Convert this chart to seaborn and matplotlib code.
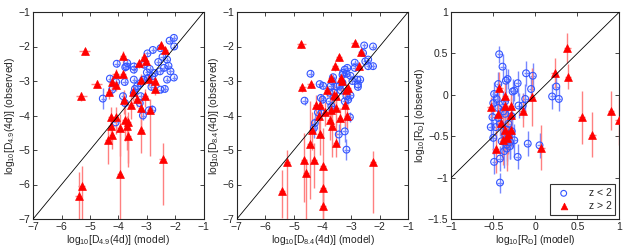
import numpy as np
import pandas as pd
import seaborn as sns
from matplotlib import pyplot as plt
from matplotlib.ticker import FuncFormatter

# ---- panel 1 : D4.9 ----
b1_x = [-2.05, -2.20, -2.04, -2.52, -2.79, -2.98, -2.29, -2.24, -2.40, -2.54,
        -2.73, -2.81, -2.96, -3.10, -3.22, -3.34, -3.42, -3.46, -2.17, -2.29,
        -2.05, -3.69, -3.46, -3.46, -3.72, -3.10, -4.06, -3.76, -4.30, -4.08,
        -3.78, -3.46, -3.13, -4.22, -4.55, -3.84, -3.77, -3.25, -3.14, -2.52,
        -2.37, -2.84, -3.22, -2.93, -2.81, -4.10, -2.60, -2.45, -3.00, -2.90]
b1_y = [-1.75, -1.83, -2.00, -2.05, -2.10, -2.20, -2.38, -2.56, -2.62, -2.72,
        -2.77, -2.86, -2.91, -2.96, -3.06, -3.15, -3.23, -3.35, -2.72, -2.96,
        -2.90, -2.48, -2.58, -2.67, -2.58, -2.53, -2.50, -2.60, -2.93, -3.03,
        -3.03, -2.96, -2.96, -3.25, -3.51, -3.44, -3.64, -3.64, -4.00, -3.25,
        -3.23, -3.17, -3.44, -3.85, -3.83, -4.20, -2.45, -2.30, -2.75, -2.65]
b1_ey = [0.08, 0.08, 0.08, 0.08, 0.08, 0.08, 0.08, 0.08, 0.08, 0.08,
         0.08, 0.08, 0.08, 0.08, 0.08, 0.10, 0.08, 0.10, 0.08, 0.08,
         0.08, 0.10, 0.12, 0.10, 0.10, 0.08, 0.10, 0.10, 0.10, 0.10,
         0.10, 0.08, 0.08, 0.15, 0.30, 0.12, 0.15, 0.12, 0.12, 0.10,
         0.10, 0.10, 0.10, 0.12, 0.12, 0.15, 0.08, 0.08, 0.08, 0.08]

r1_x = [-5.19, -3.84, -5.30, -4.77, -4.09, -3.84, -4.33, -4.24, -4.08, -3.28,
        -3.10, -3.03, -2.52, -2.36, -2.91, -2.73, -2.70, -3.22, -3.50, -3.35,
        -3.05, -3.22, -3.57, -3.81, -4.26, -4.10, -4.27, -4.24, -4.37, -3.96,
        -3.78, -3.67, -3.69, -3.67, -3.19, -2.90, -2.45, -3.96, -5.29, -5.39]
r1_y = [-2.14, -2.27, -3.43, -3.08, -2.79, -2.79, -3.32, -3.04, -3.13, -2.48,
        -2.30, -2.41, -1.97, -2.11, -2.94, -2.99, -3.22, -2.96, -3.33, -3.51,
        -3.44, -3.78, -3.69, -3.56, -4.05, -4.04, -4.31, -4.56, -4.70, -4.36,
        -4.14, -4.20, -4.30, -4.58, -4.41, -3.83, -5.26, -5.69, -6.05, -6.34]
r1_lo = [0.10, 0.20, 0.15, 0.10, 0.15, 0.15, 0.20, 0.20, 0.15, 0.15,
         0.15, 0.10, 0.10, 0.10, 0.20, 0.15, 0.20, 0.20, 0.25, 0.25,
         0.30, 0.60, 0.40, 0.40, 0.50, 0.50, 0.50, 0.40, 0.72, 0.80,
         0.60, 1.30, 0.70, 0.80, 0.68, 1.35, 1.32, 1.40, 1.00, 0.70]
r1_hi = [0.10, 0.15, 0.10, 0.10, 0.15, 0.10, 0.15, 0.15, 0.10, 0.10,
         0.10, 0.10, 0.10, 0.10, 0.15, 0.10, 0.15, 0.15, 0.20, 0.20,
         0.20, 0.30, 0.30, 0.30, 0.30, 0.30, 0.30, 0.20, 0.30, 0.40,
         0.35, 0.30, 0.30, 0.46, 0.58, 0.30, 0.46, 1.20, 0.60, 0.70]
r1_ex = [0.20, 0.10, 0.18, 0.18, 0.12, 0.10, 0.12, 0.12, 0.10, 0.10,
         0.10, 0.10, 0.10, 0.10, 0.10, 0.10, 0.10, 0.10, 0.10, 0.10,
         0.10, 0.10, 0.10, 0.10, 0.12, 0.10, 0.10, 0.10, 0.12, 0.10,
         0.10, 0.10, 0.10, 0.10, 0.10, 0.10, 0.12, 0.10, 0.12, 0.12]

# ---- panel 2 : D8.4 ----
b2_x = [-2.23, -2.54, -2.58, -2.40, -2.50, -2.23, -2.40, -2.87, -2.87, -2.78,
        -2.76, -2.76, -2.68, -3.13, -3.22, -3.28, -3.16, -3.02, -3.30, -4.42,
        -3.63, -3.65, -4.10, -3.98, -3.71, -3.51, -3.40, -3.36, -3.75, -3.60,
        -4.63, -4.06, -4.00, -3.10, -3.02, -3.16, -3.22, -3.75, -3.69, -3.65,
        -4.16, -4.04, -3.04, -4.27, -4.30, -3.43, -3.22, -3.16, -3.30, -2.95]
b2_y = [-2.00, -1.97, -2.19, -2.38, -2.43, -2.57, -2.57, -2.47, -2.62, -2.96,
        -3.10, -3.17, -2.96, -2.62, -2.67, -2.76, -2.79, -2.85, -2.82, -2.79,
        -2.89, -3.01, -3.09, -3.14, -3.14, -3.16, -3.14, -3.27, -3.34, -3.34,
        -3.57, -3.49, -3.54, -3.54, -3.42, -3.44, -3.59, -3.59, -3.73, -3.83,
        -3.91, -3.93, -4.05, -4.22, -4.36, -4.55, -4.46, -4.99, -3.05, -3.00]
b2_ey = [0.08, 0.08, 0.08, 0.08, 0.08, 0.08, 0.08, 0.08, 0.08, 0.10,
         0.10, 0.10, 0.08, 0.08, 0.08, 0.08, 0.08, 0.08, 0.08, 0.10,
         0.10, 0.10, 0.10, 0.10, 0.10, 0.10, 0.10, 0.10, 0.12, 0.12,
         0.12, 0.10, 0.10, 0.12, 0.12, 0.12, 0.15, 0.15, 0.15, 0.15,
         0.15, 0.15, 0.15, 0.30, 0.30, 0.30, 0.30, 0.30, 0.08, 0.08]

r2_x = [-4.74, -2.87, -4.71, -4.42, -3.41, -3.57, -3.34, -3.71, -2.73, -2.64,
        -3.10, -3.16, -3.84, -3.51, -4.22, -4.08, -4.12, -3.69, -3.51, -3.74,
        -3.40, -3.14, -3.22, -3.65, -4.36, -4.08, -4.45, -3.54, -4.65, -4.30,
        -3.98, -2.23, -5.25, -4.59, -3.98, -5.41, -3.98, -3.60, -3.30, -3.90]
r2_y = [-1.93, -1.90, -3.18, -3.10, -2.31, -2.57, -2.91, -2.91, -2.57, -2.17,
        -3.20, -3.25, -3.27, -3.44, -3.71, -3.71, -4.02, -3.83, -3.78, -4.12,
        -4.07, -4.00, -3.69, -4.31, -4.41, -4.54, -4.83, -4.80, -5.30, -5.30,
        -5.47, -5.36, -5.36, -5.67, -6.10, -6.18, -6.63, -3.40, -3.00, -3.90]
r2_lo = [0.10, 0.10, 0.15, 0.10, 0.10, 0.15, 0.15, 0.15, 0.15, 0.10,
         0.20, 0.20, 0.20, 0.30, 0.40, 0.40, 0.50, 0.50, 0.50, 0.60,
         0.40, 0.40, 0.60, 0.90, 0.60, 0.60, 1.60, 0.40, 1.20, 0.80,
         1.30, 1.47, 1.64, 1.40, 0.90, 0.80, 0.40, 0.40, 0.30, 0.40]
r2_hi = [0.10, 0.10, 0.10, 0.10, 0.10, 0.10, 0.10, 0.10, 0.10, 0.10,
         0.15, 0.15, 0.15, 0.20, 0.30, 0.30, 0.30, 0.30, 0.30, 0.30,
         0.30, 0.30, 0.30, 0.40, 0.50, 0.50, 1.24, 0.60, 0.80, 0.50,
         1.10, 0.32, 0.35, 0.40, 0.60, 0.60, 0.50, 0.30, 0.20, 0.30]
r2_ex = [0.15, 0.12, 0.12, 0.12, 0.10, 0.10, 0.10, 0.10, 0.10, 0.10,
         0.10, 0.10, 0.10, 0.10, 0.10, 0.10, 0.10, 0.10, 0.10, 0.10,
         0.10, 0.10, 0.10, 0.10, 0.10, 0.10, 0.10, 0.10, 0.10, 0.10,
         0.10, 0.10, 0.10, 0.10, 0.10, 0.10, 0.10, 0.10, 0.10, 0.10]

# ---- panel 3 : R_D ----
b3_x = [-0.43, -0.39, -0.33, -0.35, -0.11, -0.03, -0.44, -0.21, -0.49, -0.25,
        -0.05, 0.25, 0.20, 0.28, -0.12, -0.50, -0.44, -0.36, -0.39, -0.20,
        -0.51, -0.44, -0.36, -0.28, -0.53, -0.47, -0.42, -0.34, -0.28, -0.50,
        -0.40, -0.32, -0.25, -0.34, -0.34, -0.37, -0.09, 0.05, -0.49, -0.42,
        -0.21, -0.42, -0.30, -0.38, -0.46, -0.27, -0.32, -0.36, -0.30, -0.15]
b3_y = [0.49, 0.34, 0.19, 0.17, 0.26, 0.23, 0.13, 0.14, 0.01, 0.05,
        0.07, 0.10, -0.02, -0.05, -0.05, -0.10, -0.16, -0.08, -0.11, -0.13,
        -0.27, -0.28, -0.23, -0.26, -0.39, -0.39, -0.35, -0.42, -0.44, -0.52,
        -0.56, -0.50, -0.55, -0.60, -0.65, -0.68, -0.59, -0.61, -0.81, -0.77,
        -0.75, -1.06, -0.62, -0.20, -0.05, 0.04, -0.35, -0.48, -0.57, -0.13]
b3_ey = [0.10, 0.15, 0.12, 0.15, 0.15, 0.15, 0.15, 0.15, 0.15, 0.12,
         0.15, 0.12, 0.15, 0.15, 0.18, 0.15, 0.15, 0.15, 0.15, 0.15,
         0.15, 0.15, 0.15, 0.15, 0.15, 0.15, 0.15, 0.20, 0.20, 0.20,
         0.20, 0.20, 0.20, 0.20, 0.20, 0.20, 0.15, 0.15, 0.15, 0.15,
         0.15, 0.12, 0.15, 0.15, 0.15, 0.15, 0.20, 0.20, 0.20, 0.15]

r3_x = [0.38, 0.39, 0.23, -0.43, -0.53, -0.36, -0.36, -0.29, -0.44, -0.29,
        -0.41, -0.04, -0.15, -0.36, -0.34, -0.47, 0.07, 0.55, 0.68, 0.90,
        0.99, -0.29, -0.33, -0.38]
r3_y = [0.57, 0.22, 0.26, 0.08, -0.15, -0.01, -0.14, -0.14, -0.23, -0.24,
        -0.34, -0.03, -0.19, -0.42, -0.52, -0.65, -0.64, -0.27, -0.48, -0.19,
        -0.31, -0.42, -0.47, -0.55]
r3_ey = [0.18, 0.15, 0.18, 0.20, 0.12, 0.15, 0.15, 0.15, 0.15, 0.20,
         0.20, 0.35, 0.20, 0.25, 0.40, 0.30, 0.27, 0.32, 0.27, 0.24,
         0.30, 0.20, 0.25, 0.30]

BLUE = "#3355ff"
RED = "#ff0000"
BLUE_BAR = "#7788ff"
RED_BAR = "#ff8080"

sns.set_style("ticks")
plt.rcParams["font.family"] = ["Liberation Sans", "DejaVu Sans"]
plt.rcParams["mathtext.fontset"] = "custom"
plt.rcParams["mathtext.rm"] = "Liberation Sans"
plt.rcParams["mathtext.it"] = "Liberation Sans:italic"
plt.rcParams["mathtext.default"] = "regular"

fig = plt.figure(figsize=(6.25, 2.5), dpi=100)
axes = [fig.add_axes([0.053, 0.124, 0.273, 0.828]),
        fig.add_axes([0.379, 0.124, 0.274, 0.828]),
        fig.add_axes([0.722, 0.124, 0.269, 0.828])]

fmt = FuncFormatter(lambda v, p: ("%g" % v).replace("-", "\u2212"))

panels = [
    (b1_x, b1_y, b1_ey, 0.08, r1_x, r1_y, [r1_lo, r1_hi], r1_ex, (-7, -1), (-7, -1),
     "4.9"),
    (b2_x, b2_y, b2_ey, 0.08, r2_x, r2_y, [r2_lo, r2_hi], r2_ex, (-7, -1), (-7, -1),
     "8.4"),
    (b3_x, b3_y, b3_ey, 0.03, r3_x, r3_y, r3_ey, 0.04, (-1, 1), (-1.5, 1), None),
]

for ax, (bx, by, bey, bex, rx, ry, rey, rex, xl, yl, sub) in zip(axes, panels):
    ax.errorbar(bx, by, yerr=bey, xerr=bex, fmt="none", ecolor=BLUE_BAR,
                elinewidth=1.0, capsize=0, zorder=2)
    ax.errorbar(rx, ry, yerr=rey, xerr=rex, fmt="none", ecolor=RED_BAR,
                elinewidth=1.0, capsize=0, zorder=2)
    sns.scatterplot(x=bx, y=by, ax=ax, marker="o", s=24, facecolors="none",
                    edgecolor=BLUE, linewidth=0.8, zorder=3, label="z < 2")
    sns.scatterplot(x=rx, y=ry, ax=ax, marker="^", s=32, color=RED,
                    edgecolor=RED, linewidth=0.5, zorder=4, label="z > 2")
    lo = max(xl[0], yl[0])
    hi = min(xl[1], yl[1])
    ax.plot([lo, hi], [lo, hi], color="k", lw=0.6, zorder=5)
    ax.set_xlim(*xl)
    ax.set_ylim(*yl)
    ax.tick_params(direction="in", length=3, width=0.6, labelsize=7.5,
                   top=True, right=True, pad=2)
    for s in ax.spines.values():
        s.set_linewidth(0.8)
    if sub is not None:
        ax.set_xticks(np.arange(-7, 0))
        ax.set_yticks(np.arange(-7, 0))
        ax.set_xlabel(r"log$_{10}$[D$_{%s}$(4d)] (model)" % sub, fontsize=7.5,
                      labelpad=1)
        ax.set_ylabel(r"log$_{10}$[D$_{%s}$(4d)] (observed)" % sub, fontsize=7.5,
                      labelpad=1)
        ax.get_legend().remove()
    else:
        ax.set_xlabel(r"log$_{10}$[R$_D$] (model)", fontsize=7.5, labelpad=1)
        ax.set_ylabel(r"log$_{10}$[R$_D$] (observed)", fontsize=7.5, labelpad=1)
        ax.set_xticks([-1, -0.5, 0, 0.5, 1])
        ax.set_yticks([-1.5, -1, -0.5, 0, 0.5, 1])
        leg = ax.legend(loc="lower right", fontsize=7.5, frameon=True,
                        fancybox=False, edgecolor="k", borderpad=0.35,
                        handletextpad=1.4, borderaxespad=0.4, markerscale=0.85,
                        labelspacing=0.3)
        leg.get_frame().set_linewidth(0.8)
    ax.xaxis.set_major_formatter(fmt)
    ax.yaxis.set_major_formatter(fmt)

fig.savefig("out.png", dpi=100)
